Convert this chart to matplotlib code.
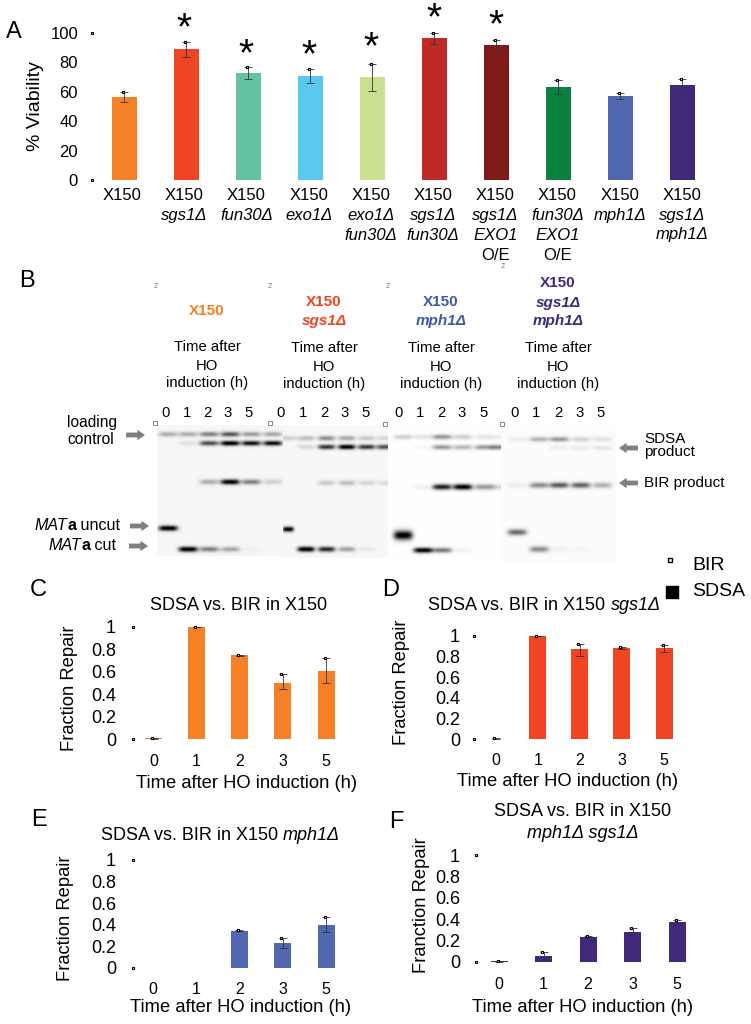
import numpy as np
import matplotlib
matplotlib.use("Agg")
import matplotlib.pyplot as plt

plt.rcParams['font.family'] = ['Liberation Sans', 'DejaVu Sans']

W, H = 751, 1024

# ---------- Panel A data ----------
a_labels = [["X150"], ["X150", "sgs1Δ"], ["X150", "fun30Δ"], ["X150", "exo1Δ"],
            ["X150", "exo1Δ", "fun30Δ"], ["X150", "sgs1Δ", "fun30Δ"],
            ["X150", "sgs1Δ", "EXO1", "O/E"], ["X150", "fun30Δ", "EXO1", "O/E"],
            ["X150", "mph1Δ"], ["X150", "sgs1Δ", "mph1Δ"]]
a_values = [56.7, 88.7, 72.7, 70.7, 69.8, 96.2, 91.6, 63.4, 57.1, 64.6]
a_err_hi = [60.0, 93.5, 76.5, 75.4, 78.6, 99.5, 94.8, 68.0, 59.0, 68.8]
a_err_lo = [52.8, 83.7, 68.8, 65.7, 60.7, 92.5, 88.5, 58.7, 55.0, 59.6]
a_colors = ['#F58025', '#F04523', '#66C2A5', '#5BC8F0', '#CBE08F',
            '#C02A26', '#801A18', '#0C8041', '#5168B0', '#40287B']
a_stars = [1, 2, 3, 4, 5, 6]

# ---------- Panels C-F data ----------
times = ['0', '1', '2', '3', '5']
c_values = [0.005, 1.0, 0.745, 0.50, 0.605]
c_hi = [0.01, 1.0, 0.75, 0.575, 0.718]
c_lo = [0.0, 1.0, 0.74, 0.448, 0.50]
d_values = [0.003, 1.0, 0.87, 0.883, 0.883]
d_hi = [0.006, 1.0, 0.925, 0.89, 0.913]
d_lo = [0.0, 1.0, 0.81, 0.875, 0.84]
e_values = [0.0, 0.0, 0.344, 0.226, 0.396]
e_hi = [np.nan, np.nan, 0.35, 0.272, 0.467]
e_lo = [np.nan, np.nan, 0.34, 0.186, 0.328]
f_values = [0.003, 0.053, 0.234, 0.278, 0.369]
f_hi = [0.006, 0.094, 0.238, 0.32, 0.39]
f_lo = [0.0, 0.01, 0.23, 0.25, 0.35]
col_c, col_d, col_e, col_f = '#F58025', '#F04523', '#5168B0', '#40287B'

# ---------- Panel B gel band intensities (lanes x rows) ----------
gel1_load = [.28, .28, .45, .62, .35, .30]
gel1_sdsa = [0, .08, .65, 1.0, .90, .90]
gel1_bir = [0, 0, .28, .95, .45, .15]
gel1_uncut = [1.0, 0, 0, 0, 0, 0]
gel1_cut = [0, 1.0, .45, .30, .03, 0]
gel2_load = [.15, .22, .40, .30, .18, .12]
gel2_sdsa = [0, .12, .75, 1.0, .75, .65]
gel2_bir = [0, 0, .18, .22, .13, .10]
gel2_uncut = [.95, 0, 0, 0, 0, 0]
gel2_cut = [0, 1.0, .80, .32, .06, 0]
gel3_load = [.18, .10, .40, .18, .10, .06]
gel3_sdsa = [0, .03, .38, .28, .38, .45]
gel3_bir = [0, .05, .85, 1.0, .38, .15]
gel3_uncut = [1.0, 0, 0, 0, 0, 0]
gel3_cut = [0, 1.0, .50, .05, 0, 0]
gel4_load = [.05, .28, .38, .16, .10]
gel4_sdsa = [0, 0, .05, .06, .09]
gel4_bir = [.05, .42, .62, .58, .28]
gel4_uncut = [.55, 0, 0, 0, 0]
gel4_cut = [0, .42, .04, .02, 0]

fig = plt.figure(figsize=(W / 100, H / 100), dpi=100, facecolor='white')


def px_axes(L, R, T, B):
    return fig.add_axes([L / W, 1 - B / H, (R - L) / W, (B - T) / H])


def bar_panel(values, hi, lo, colors, c0, c1, y0px, y1px, vmax, L, R, T, bw,
              ticks, ticklabels, tick_right, tick_fs, xticks=None, xtop=None, xfs=11.5,
              mark_x=None):
    n = len(values)
    s = (c1 - c0) / (n - 1)
    ax = px_axes(L, R, T, y0px)
    ax.patch.set_alpha(0)
    ax.set_xlim((L - c0) / s, (R - c0) / s)
    per = (y0px - y1px) / vmax
    ax.set_ylim(0, (y0px - T) / per)
    xs = np.arange(n)
    ax.bar(xs, values, width=bw / s, color=colors, linewidth=0, zorder=2)
    for x, h, l in zip(xs, hi, lo):
        if np.isnan(h):
            continue
        ax.errorbar(x, (h + l) / 2, yerr=(h - l) / 2, color='#333333', lw=0.6, capsize=3.2,
                    capthick=0.6, zorder=3, clip_on=False)
        ax.plot([x - 1.5 / s], [h], marker='s', ms=2.0, mfc='white', mec='black', mew=0.8,
                zorder=4, clip_on=False)
    for sp in ax.spines.values():
        sp.set_visible(False)
    ax.set_yticks(ticks)
    ax.set_yticklabels(ticklabels, fontsize=tick_fs)
    ax.tick_params(axis='y', length=0, pad=(L - tick_right) * 0.72)
    if xticks is None:
        ax.set_xticks([])
    else:
        ax.set_xticks(xs)
        ax.set_xticklabels(xticks, fontsize=xfs)
        ax.tick_params(axis='x', length=0, pad=(xtop - y0px) * 0.72)
    if mark_x is not None:
        mx = (mark_x - c0) / s
        ax.plot([mx, mx], [0, vmax], ls='none', marker='s', ms=2.0, mfc='white', mec='black',
                mew=0.8, clip_on=False, zorder=4)
    return ax


# Panel A
bar_panel(a_values, a_err_hi, a_err_lo, a_colors, 124, 682, 180.3, 32.7, 100, 100, 720, 5, 25,
          [0, 20, 40, 60, 80, 100], ['0', '20', '40', '60', '80', '100'], 78, 12, mark_x=91.5)

# Panels C-F
t1 = [0, .2, .4, .6, .8, 1]
tl = ['0', '0.2', '0.4', '0.6', '0.8', '1']
bar_panel(c_values, c_hi, c_lo, col_c, 153.5, 326, 739, 626.7, 1, 125, 350, 615, 17, t1, tl, 116, 13,
          times, 754, mark_x=133)
bar_panel(d_values, d_hi, d_lo, col_d, 495.7, 664, 739, 636, 1, 478, 690, 615, 17, t1, tl, 460, 13,
          times, 753, mark_x=474)
bar_panel(e_values, e_hi, e_lo, col_e, 152.6, 326, 967.7, 860, 1, 125, 350, 848, 17, t1, tl, 116, 13,
          times, 982, mark_x=133)
bar_panel(f_values, f_hi, f_lo, col_f, 499, 677, 961.7, 855, 1, 478, 700, 843, 17, t1, tl, 460, 13,
          times, 977, mark_x=476)


# Panel B gels
def gel(L, R, T, B, lanes, ys, rows, bg, wid=9.5, sys=(2.4, 2.4, 2.6, 2.6, 2.6), uncut_wid=None):
    yy, xx = np.mgrid[T:B:0.5, L:R:0.5]
    dark = np.zeros_like(xx)
    for k, (yc, row) in enumerate(zip(ys, rows)):
        w = uncut_wid if (k == 3 and uncut_wid) else wid
        for xc, v in zip(lanes, row):
            if v > 0:
                dark += v * np.exp(-((xx - xc) / w) ** 4 - ((yy - yc) / sys[k]) ** 2)
    img = np.clip(bg - 1.05 * dark, 0, 1)
    ax = px_axes(L, R, T, B)
    ax.imshow(img, cmap='gray', vmin=0, vmax=1, aspect='auto', extent=[L, R, B, T],
              interpolation='bilinear')
    ax.axis('off')
    return ax


gel(157, 283, 425, 556, [168, 188, 209, 230, 251, 272.5], [434, 443, 481.7, 528, 549],
    [gel1_load, gel1_sdsa, gel1_bir, gel1_uncut, gel1_cut], 0.965)
gel(283, 388, 425, 558, [288, 305.7, 326, 346, 365.6, 384], [438, 446.7, 482.7, 529, 549],
    [gel2_load, gel2_sdsa, gel2_bir, gel2_uncut, gel2_cut], 0.97, wid=8.5, uncut_wid=5.5)
gel(388, 501, 425, 558, [403, 423, 442, 462.6, 484, 500], [436.7, 447, 486.7, 535, 550],
    [gel3_load, gel3_sdsa, gel3_bir, gel3_uncut, gel3_cut], 0.995,
    sys=(2.4, 2.4, 2.8, 4.6, 2.6))
gel(501, 617, 425, 563, [517, 539, 559, 580.6, 602], [439, 447.7, 485, 532, 549],
    [gel4_load, gel4_sdsa, gel4_bir, gel4_uncut, gel4_cut], 0.985,
    sys=(2.4, 2.4, 2.8, 3.0, 3.0))

# Overlay in pixel coordinates for text and annotations
ov = fig.add_axes([0, 0, 1, 1], zorder=10)
ov.set_xlim(0, W)
ov.set_ylim(H, 0)
ov.axis('off')
ov.patch.set_alpha(0)
renderer = fig.canvas.get_renderer()


def T(x, y, s, fs=12, ha='center', va='center', **kw):
    return ov.text(x, y, s, fontsize=fs, ha=ha, va=va, **kw)


def mixed(xc, y, parts, fs=13):
    """Centre a line of pieces on xc; each piece is (text, style keywords)."""
    items = [ov.text(0, y, s, fontsize=fs, va='center', ha='left', **kw) for s, kw in parts]
    ws = [i.get_window_extent(renderer).width for i in items]
    x = xc - sum(ws) / 2
    for i, w in zip(items, ws):
        i.set_x(x)
        x += w


IT = dict(style='italic')
BD = dict(fontweight='bold')

# Panel letters
for s, x, y in [('A', 14, 32), ('B', 27, 281), ('C', 38, 590), ('D', 391, 590), ('E', 39, 820), ('F', 396, 822)]:
    T(x, y, s, 17)

# Panel A text
T(35, 106, '% Viability', 14, rotation=90)
a_centers = np.linspace(122, 682, len(a_labels))
line_y = [195, 215.7, 235, 256]
for xc, lines in zip(a_centers, a_labels):
    for yl, s in zip(line_y, lines):
        plain = s in ('X150', 'O/E')
        T(xc, yl, s, 12, style='normal' if plain else 'italic')
for i, yy in zip(a_stars, [22, 48, 49, 41, 12, 19]):
    T(a_centers[i] + (0 if i < 5 else 1), yy + 7, '*', 28)

# Panel B text
T(207, 311, 'X150', 11, color='#F58025', fontweight='bold')
T(324, 302, 'X150', 11, color='#F04523', fontweight='bold')
T(324, 321, 'sgs1Δ', 11, color='#F04523', fontweight='bold', style='italic')
T(441, 302, 'X150', 11, color='#3F58A8', fontweight='bold')
T(441, 321, 'mph1Δ', 11, color='#3F58A8', fontweight='bold', style='italic')
T(558, 283, 'X150', 11, color='#40287B', fontweight='bold')
T(558, 302.7, 'sgs1Δ', 11, color='#40287B', fontweight='bold', style='italic')
T(558, 321, 'mph1Δ', 11, color='#40287B', fontweight='bold', style='italic')
for xc, ys in [(207, (347, 365.7, 382.7)), (324, (348, 367, 384)), (441, (348, 367, 384)), (558, (348, 367, 384))]:
    for yy, s in zip(ys, ['Time after', 'HO', 'induction (h)']):
        T(xc, yy, s, 10.7)
for lanes in ([165.5, 186.6, 207, 228, 249], [281, 303, 324, 345, 366], [399, 420, 441, 462, 484], [515, 536, 558, 580, 601]):
    for xc, s in zip(lanes, times):
        T(xc, 413, s, 10.7)
T(67, 423, 'loading', 11.2, ha='left')
T(67, 439, 'control', 11.2, ha='left')
mixed(77.5, 526, [('MAT', IT), ('a', BD), (' uncut', {})], 11.6)
mixed(82.5, 546, [('MAT', IT), ('a', BD), (' cut', {})], 11.6)
T(644, 439, 'SDSA', 11, ha='left')
T(644, 452, 'product', 11, ha='left')
T(644, 483, 'BIR product', 11, ha='left')
gray = '#808080'
for x0, x1, y in [(126, 145, 435), (130, 149, 526), (129, 148, 546), (638, 619, 448), (638, 619, 483)]:
    ov.annotate('', xy=(x1, y), xytext=(x0, y),
                arrowprops=dict(arrowstyle='simple,head_length=0.55,head_width=0.75,tail_width=0.35',
                                color=gray, lw=0, shrinkA=0, shrinkB=0))
for x, y in [(154.5, 423), (270, 423), (385, 423.5), (502, 423.5)]:
    ov.plot([x], [y], marker='s', ms=2.5, mfc='white', mec='#888888', mew=0.7)
for x, y in [(156, 287), (270, 287), (388, 287), (503, 267)]:
    T(x, y, "2'", 5, color='#777777')

# Legend
ov.plot([670], [560], marker='s', ms=3.0, mfc='white', mec='black', mew=1.0)
ov.plot([672], [592], marker='s', ms=9, color='black')
T(692, 566, 'BIR', 14, ha='left')
T(692, 592, 'SDSA', 14, ha='left')

# Titles and axis labels C-F
T(238.5, 605.7, 'SDSA vs. BIR in X150', 13)
mixed(544.6, 605.7, [('SDSA vs. BIR in X150 ', {}), ('sgs1Δ', IT)], 13)
mixed(220.7, 835, [('SDSA vs. BIR in X150 ', {}), ('mph1Δ', IT)], 13)
T(583, 811.7, 'SDSA vs. BIR in X150', 13)
T(583, 833, 'mph1Δ sgs1Δ', 13, style='italic')
T(247, 783, 'Time after HO induction (h)', 13.2)
T(567.7, 782, 'Time after HO induction (h)', 13.2)
T(241, 1007, 'Time after HO induction (h)', 13.2)
T(583, 1008, 'Time after HO induction (h)', 13.2)
T(69.6, 688, 'Fraction Repair', 13.2, rotation=90)
T(402, 682.7, 'Fraction Repair', 13.2, rotation=90)
T(66, 918, 'Fraction Repair', 13.2, rotation=90)
T(422, 905, 'Franction Repair', 13.2, rotation=90)

fig.savefig('out.png', dpi=100)
